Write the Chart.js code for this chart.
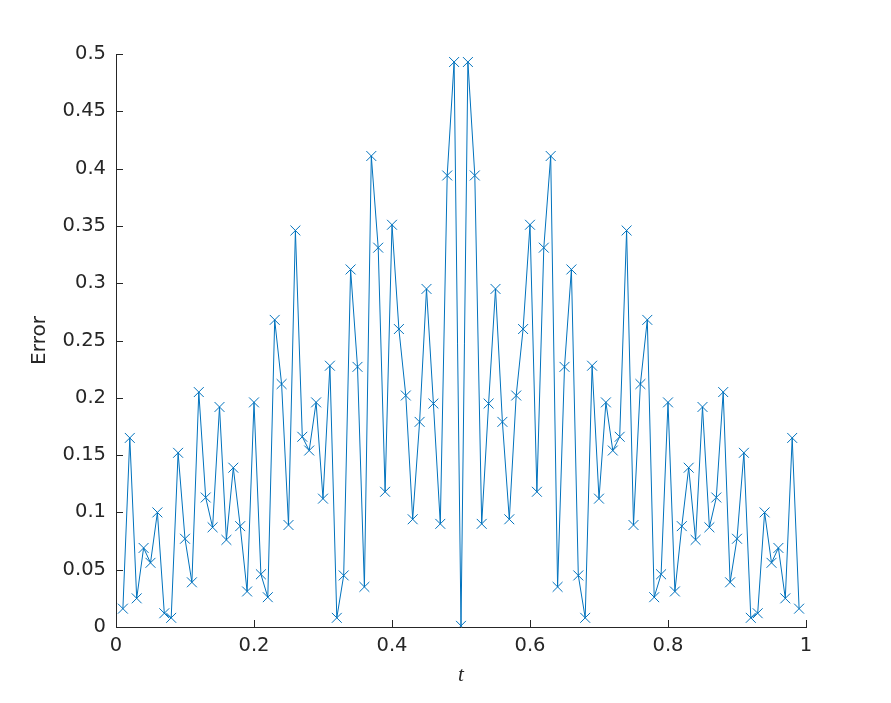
<!DOCTYPE html>
<html>
<head>
<meta charset="utf-8">
<script src="https://cdn.jsdelivr.net/npm/chart.js@4"></script>
<style>
  html, body { margin: 0; padding: 0; background: #ffffff; }
  #wrap { width: 891px; height: 703px; }
</style>
</head>
<body>
<div id="wrap"><canvas id="c" width="891" height="703"></canvas></div>
<script>
// t values 0.01 ... 0.99
const tValues = [
  0.01,0.02,0.03,0.04,0.05,0.06,0.07,0.08,0.09,0.10,
  0.11,0.12,0.13,0.14,0.15,0.16,0.17,0.18,0.19,0.20,
  0.21,0.22,0.23,0.24,0.25,0.26,0.27,0.28,0.29,0.30,
  0.31,0.32,0.33,0.34,0.35,0.36,0.37,0.38,0.39,0.40,
  0.41,0.42,0.43,0.44,0.45,0.46,0.47,0.48,0.49,0.50,
  0.51,0.52,0.53,0.54,0.55,0.56,0.57,0.58,0.59,0.60,
  0.61,0.62,0.63,0.64,0.65,0.66,0.67,0.68,0.69,0.70,
  0.71,0.72,0.73,0.74,0.75,0.76,0.77,0.78,0.79,0.80,
  0.81,0.82,0.83,0.84,0.85,0.86,0.87,0.88,0.89,0.90,
  0.91,0.92,0.93,0.94,0.95,0.96,0.97,0.98,0.99
];
// Error values
const errorValues = [
  0.016,0.165,0.025,0.069,0.056,0.100,0.012,0.008,0.152,0.077,
  0.039,0.205,0.113,0.087,0.192,0.076,0.139,0.088,0.031,0.196,
  0.046,0.026,0.268,0.212,0.089,0.346,0.166,0.154,0.196,0.112,
  0.228,0.008,0.045,0.312,0.227,0.035,0.411,0.331,0.118,0.351,
  0.260,0.202,0.094,0.179,0.295,0.195,0.090,0.394,0.493,0.001,
  0.493,0.394,0.090,0.195,0.295,0.179,0.094,0.202,0.260,0.351,
  0.118,0.331,0.411,0.035,0.227,0.312,0.045,0.008,0.228,0.112,
  0.196,0.154,0.166,0.346,0.089,0.212,0.268,0.026,0.046,0.196,
  0.031,0.088,0.139,0.076,0.192,0.087,0.113,0.205,0.039,0.077,
  0.152,0.008,0.012,0.100,0.056,0.069,0.025,0.165,0.016
];
const xTickValues = [0, 0.2, 0.4, 0.6, 0.8, 1];
const yTickValues = [0, 0.05, 0.1, 0.15, 0.2, 0.25, 0.3, 0.35, 0.4, 0.45, 0.5];
const xTitle = 't';
const yTitle = 'Error';

const axisColor = '#262626';
const lineColor = '#0072BD';

const points = tValues.map((t, i) => ({ x: t, y: errorValues[i] }));

const inwardTicks = {
  id: 'inwardTicks',
  afterDraw(chart) {
    const ctx = chart.ctx;
    const xs = chart.scales.x, ys = chart.scales.y;
    const len = 7;
    ctx.save();
    ctx.strokeStyle = axisColor;
    ctx.lineWidth = 1;
    ctx.beginPath();
    xTickValues.forEach(v => {
      const px = Math.round(xs.getPixelForValue(v)) + 0.5;
      ctx.moveTo(px, ys.bottom);
      ctx.lineTo(px, ys.bottom - len);
    });
    yTickValues.forEach(v => {
      const py = Math.round(ys.getPixelForValue(v)) + 0.5;
      ctx.moveTo(xs.left, py);
      ctx.lineTo(xs.left + len, py);
    });
    ctx.stroke();
    ctx.restore();
  }
};

const fmt = v => String(Number(Number(v).toFixed(2)));

new Chart(document.getElementById('c'), {
  type: 'line',
  data: {
    datasets: [{
      data: points,
      borderColor: lineColor,
      backgroundColor: lineColor,
      borderWidth: 1,
      pointStyle: 'crossRot',
      pointRadius: 7,
      pointBorderWidth: 1,
      pointBorderColor: lineColor,
      pointHoverRadius: 7,
      tension: 0,
      fill: false
    }]
  },
  options: {
    responsive: false,
    animation: false,
    events: [],
    layout: { padding: { left: 0, right: 85, top: 54, bottom: 0 } },
    plugins: { legend: { display: false }, tooltip: { enabled: false } },
    scales: {
      x: {
        type: 'linear',
        min: 0, max: 1,
        afterFit(scale) { scale.height = 76; },
        afterBuildTicks(scale) { scale.ticks = xTickValues.map(v => ({ value: v })); },
        grid: { display: false, drawTicks: false },
        border: { display: true, color: axisColor, width: 1 },
        ticks: {
          color: axisColor, padding: 7,
          font: { family: 'DejaVu Sans', size: 19.5 },
          maxRotation: 0, autoSkip: false,
          callback: fmt
        },
        title: {
          display: true, text: xTitle, color: axisColor,
          font: { family: 'Liberation Serif', size: 21, style: 'italic' },
          padding: { top: 0, bottom: 15 }
        }
      },
      y: {
        type: 'linear',
        min: 0, max: 0.5,
        afterFit(scale) { scale.width = 116; },
        afterBuildTicks(scale) { scale.ticks = yTickValues.map(v => ({ value: v })); },
        grid: { display: false, drawTicks: false },
        border: { display: true, color: axisColor, width: 1 },
        ticks: {
          color: axisColor, padding: 10,
          font: { family: 'DejaVu Sans', size: 19.5 },
          autoSkip: false,
          callback: fmt
        },
        title: {
          display: true, text: yTitle, color: axisColor,
          font: { family: 'DejaVu Sans', size: 20 },
          padding: { top: 28, bottom: 0 }
        }
      }
    }
  },
  plugins: [inwardTicks]
});
</script>
</body>
</html>
